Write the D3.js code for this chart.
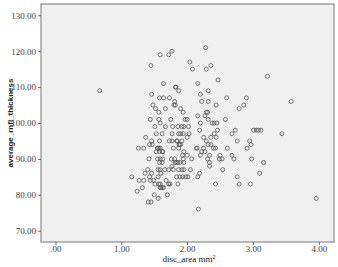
<!DOCTYPE html>
<html>
<head>
<meta charset="utf-8">
<script src="https://d3js.org/d3.v7.min.js"></script>
<style>
    body { margin: 0; background: #fff; }
    .axis text { font-family: 'Liberation Serif', 'Times New Roman', serif; font-size: 9px; fill: #444; }
    .axis line { stroke: #6e6e6e; }
    .axis-title { fill: #222; }
</style>
</head>
<body>
<div id="chart"></div>
<script>
// disc area (mm2) and average RNFL thickness, one pair per subject
const discArea = [
    0.67, 1.59, 1.72, 1.77, 1.45, 2.04, 2.08, 1.64, 1.82, 1.83,
    1.87, 1.46, 1.58, 1.64, 1.73, 1.81, 1.48, 1.52, 1.57, 1.67,
    1.82, 1.80, 1.90, 1.94, 1.97, 2.00, 1.44, 1.57, 1.75, 1.59,
    1.51, 1.67, 1.78, 1.86, 1.92, 1.95, 2.02, 1.53, 1.62, 1.77,
    1.87, 1.90, 1.94, 2.00, 2.03, 1.37, 1.46, 1.58, 1.73, 1.77,
    1.84, 1.92, 1.88, 1.90, 1.26, 1.34, 1.43, 1.47, 1.55, 1.59,
    1.62, 1.79, 1.87, 1.95, 1.53, 1.58, 1.63, 1.42, 1.55, 1.59,
    1.63, 1.76, 1.81, 1.93, 1.94, 2.00, 1.58, 1.62, 1.84, 1.89,
    1.95, 2.07, 1.77, 1.40, 1.59, 1.72, 1.79, 1.87, 1.92, 1.95,
    2.05, 1.36, 1.46, 1.60, 2.19, 3.10, 1.16, 1.43, 1.56, 1.84,
    1.89, 1.93, 1.98, 2.01, 2.16, 2.76, 1.27, 1.34, 1.44, 1.49,
    1.68, 1.51, 1.59, 1.72, 1.74, 1.86, 2.43, 2.79, 2.96, 1.32,
    1.59, 1.62, 1.64, 1.24, 1.50, 1.70, 1.56, 3.96, 1.41, 1.45,
    2.17, 2.28, 2.29, 2.36, 2.47, 3.22, 2.16, 2.32, 2.20, 2.22,
    2.32, 2.60, 2.90, 2.44, 2.86, 2.79, 3.58, 2.16, 2.29, 2.31,
    2.27, 2.32, 2.38, 2.41, 2.45, 2.58, 2.20, 2.19, 2.46, 2.73,
    3.01, 3.05, 3.08, 3.12, 2.68, 2.41, 3.44, 2.36, 2.44, 2.25,
    2.29, 2.76, 2.95, 2.32, 2.36, 2.97, 2.14, 2.15, 2.25, 2.40,
    2.43, 2.61, 2.91, 2.27, 2.22, 2.50, 2.68, 2.34, 2.20, 2.53,
    2.49, 2.31, 2.71, 2.98, 2.34, 3.16, 2.34, 2.54, 1.55, 1.57,
    1.85, 1.88, 1.82, 1.86, 1.57, 1.60, 1.56, 1.66
];

const rnflThickness = [
    109, 119, 119, 120, 116, 117, 115, 111, 110, 110,
    109, 108, 107, 107, 107, 106, 105, 104, 103, 104,
    105, 105, 104, 103, 101, 101, 101, 101, 101, 100,
    99, 99, 99, 99, 99, 99, 99, 97, 97, 97,
    97, 97, 97, 96, 97, 96, 95, 95, 95, 95,
    95, 95, 94, 94, 93, 93, 94, 94, 93, 93,
    92, 93, 93, 92, 92, 92, 92, 90, 90, 90,
    90, 90, 90, 91, 90, 91, 89, 89, 89, 89,
    89, 90, 88, 87, 87, 87, 87, 87, 87, 87,
    87, 86, 86, 86, 86, 86, 85, 85, 85, 85,
    85, 85, 85, 85, 85, 85, 84, 84, 84, 84,
    84, 83, 83, 83, 83, 83, 83, 83, 83, 82,
    82, 82, 82, 81, 80, 80, 79, 79, 78, 78,
    76, 121, 115, 116, 112, 113, 111, 109, 108, 106,
    106, 107, 107, 105, 105, 104, 106, 102, 103, 103,
    102, 101, 100, 100, 100, 101, 100, 98, 98, 98,
    98, 98, 98, 98, 97, 97, 97, 96, 96, 96,
    95, 95, 95, 94, 94, 94, 93, 93, 93, 93,
    93, 93, 93, 92, 92, 91, 91, 91, 91, 90,
    90, 90, 90, 90, 89, 89, 88, 87, 93, 93,
    95, 94, 89, 89, 83, 82, 87, 87
];

const xTickValues = [0, 1, 2, 3, 4];
const yTickValues = [70, 80, 90, 100, 110, 120, 130];
const xTitle = 'disc_area mm';
const yTitle = 'average_rnfl_thickness';

class ScatterPlot {
    constructor(_config, _data) {
        this.config = {
            parentElement: _config.parentElement,
            containerWidth: _config.containerWidth || 338,
            containerHeight: _config.containerHeight || 267,
            margin: _config.margin || { top: 4, right: 4, bottom: 25, left: 41 }
        }
        this.data = _data;
        this.initVis();
    }

    initVis() {
        const vis = this;

        vis.width = vis.config.containerWidth - vis.config.margin.left - vis.config.margin.right;
        vis.height = vis.config.containerHeight - vis.config.margin.top - vis.config.margin.bottom;

        vis.xScale = d3.scaleLinear()
            .domain([-0.22, 4.23])
            .range([0, vis.width]);

        vis.yScale = d3.scaleLinear()
            .domain([66.85, 133.15])
            .range([vis.height, 0]);

        vis.xAxis = d3.axisBottom(vis.xScale)
            .tickValues(xTickValues)
            .tickSize(3)
            .tickSizeOuter(0)
            .tickPadding(1)
            .tickFormat(d => d === 0 ? '.00' : d3.format('.2f')(d));

        vis.yAxis = d3.axisLeft(vis.yScale)
            .tickValues(yTickValues)
            .tickSize(3)
            .tickSizeOuter(0)
            .tickPadding(2)
            .tickFormat(d3.format('.2f'));

        vis.svg = d3.select(vis.config.parentElement).append('svg')
            .attr('width', vis.config.containerWidth)
            .attr('height', vis.config.containerHeight);

        vis.chart = vis.svg.append('g')
            .attr('transform', `translate(${vis.config.margin.left},${vis.config.margin.top})`);

        vis.chart.append('rect')
            .attr('width', vis.width)
            .attr('height', vis.height)
            .attr('fill', '#f0f0f0')
            .attr('stroke', '#8c8c8c')
            .attr('stroke-width', 1.2);

        vis.xAxisG = vis.chart.append('g')
            .attr('class', 'axis x-axis')
            .attr('transform', `translate(0,${vis.height})`);

        vis.yAxisG = vis.chart.append('g')
            .attr('class', 'axis y-axis');

        vis.points = vis.chart.append('g');

        vis.svg.append('text')
            .attr('class', 'axis-title')
            .attr('transform', 'translate(13,123) rotate(-90)')
            .style('text-anchor', 'middle')
            .style('font-family', "'Liberation Sans', Arial, sans-serif")
            .style('font-size', '8px')
            .style('font-weight', 'bold')
            .text(yTitle);

        const xt = vis.svg.append('text')
            .attr('class', 'axis-title')
            .attr('x', 189)
            .attr('y', 262)
            .style('text-anchor', 'middle')
            .style('font-family', "'Liberation Serif', 'Times New Roman', serif")
            .style('font-size', '9px');
        xt.append('tspan').text(xTitle);
        xt.append('tspan').attr('dy', -3).style('font-size', '6px').text('2');
    }

    renderVis() {
        const vis = this;

        vis.points.selectAll('circle')
            .data(vis.data)
            .join('circle')
            .attr('cx', d => vis.xScale(d.area))
            .attr('cy', d => vis.yScale(d.rnfl))
            .attr('r', 2)
            .attr('fill', 'none')
            .attr('stroke', '#555')
            .attr('stroke-width', 0.8);

        vis.xAxisG.call(vis.xAxis);
        vis.yAxisG.call(vis.yAxis);
        vis.chart.selectAll('.axis .domain').remove();
    }
}

const data = discArea.map((a, i) => ({ area: a, rnfl: rnflThickness[i] }));
const plot = new ScatterPlot({ parentElement: '#chart' }, data);
plot.renderVis();
</script>
</body>
</html>
